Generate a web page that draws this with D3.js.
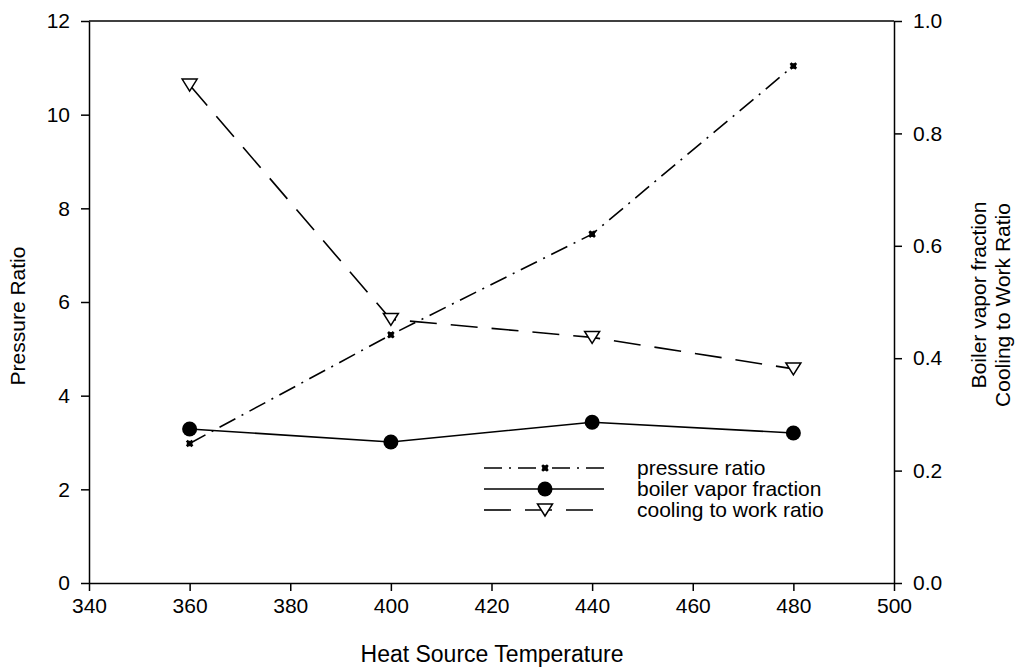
<!DOCTYPE html>
<html>
<head>
<meta charset="utf-8">
<script src="https://cdn.jsdelivr.net/npm/d3@7"></script>
<style>
  html, body { margin: 0; padding: 0; background: #fff; }
  svg text { font-family: "Liberation Sans", Arial, sans-serif; fill: #000; }
</style>
</head>
<body>
<svg id="chart" width="1019" height="669"></svg>
<script>
// Heat source temperature sweep
const temps = [360, 400, 440, 480];
// Left axis series
const pressureRatio = [2.98, 5.30, 7.45, 11.04];
// Right axis series
const vaporFraction = [0.274, 0.251, 0.286, 0.267];
const coolingToWork = [0.886, 0.469, 0.437, 0.381];

const xTicks = [340, 360, 380, 400, 420, 440, 460, 480, 500];
const yLeftTicks = [0, 2, 4, 6, 8, 10, 12];
const yRightTicks = [0.0, 0.2, 0.4, 0.6, 0.8, 1.0];

const legendLabels = ["pressure ratio", "boiler vapor fraction", "cooling to work ratio"];

const svg = d3.select("#chart");
const plotLeft = 89, plotRight = 894, plotTop = 21, plotBottom = 583;
const FONT = 21;

const x = d3.scaleLinear().domain([340, 500]).range([plotLeft, plotRight]);
const yL = d3.scaleLinear().domain([0, 12]).range([plotBottom, plotTop]);
const yR = d3.scaleLinear().domain([0, 1]).range([plotBottom, plotTop]);

// Axes
function styleAxis(g) {
  g.attr("font-family", null);
  g.selectAll("path.domain").attr("stroke", "#000").attr("stroke-width", 1.5);
  g.selectAll(".tick line").attr("stroke", "#000").attr("stroke-width", 1.5);
  g.selectAll(".tick text").style("font-size", FONT + "px").attr("fill", "#000");
}

svg.append("g")
  .attr("transform", `translate(0,${plotBottom})`)
  .call(d3.axisBottom(x).tickValues(xTicks).tickSize(8).tickSizeOuter(0).tickPadding(7).tickFormat(d3.format("d")))
  .call(styleAxis);

svg.append("g")
  .attr("transform", `translate(${plotLeft},0)`)
  .call(d3.axisLeft(yL).tickValues(yLeftTicks).tickSize(8).tickSizeOuter(0).tickPadding(11).tickFormat(d3.format("d")))
  .call(styleAxis);

svg.append("g")
  .attr("transform", `translate(${plotRight},0)`)
  .call(d3.axisRight(yR).tickValues(yRightTicks).tickSize(8).tickSizeOuter(0).tickPadding(11).tickFormat(d3.format(".1f")))
  .call(styleAxis);

// Top frame line
svg.append("line")
  .attr("x1", plotLeft).attr("x2", plotRight).attr("y1", plotTop).attr("y2", plotTop)
  .attr("stroke", "#000").attr("stroke-width", 1.5);

// Axis titles
svg.append("text")
  .attr("x", 492).attr("y", 662)
  .attr("text-anchor", "middle").style("font-size", "23px")
  .text("Heat Source Temperature");

svg.append("text")
  .attr("transform", "translate(25,316) rotate(-90)")
  .attr("text-anchor", "middle").style("font-size", FONT + "px")
  .text("Pressure Ratio");

svg.append("text")
  .attr("transform", "translate(986,295) rotate(-90)")
  .attr("text-anchor", "middle").style("font-size", FONT + "px")
  .text("Boiler vapor fraction");

svg.append("text")
  .attr("transform", "translate(1010,305) rotate(-90)")
  .attr("text-anchor", "middle").style("font-size", FONT + "px")
  .text("Cooling to Work Ratio");

// Series styles
const dashPressure = "18,7,2,7";
const dashCooling = "27,14";

const series = [
  { values: pressureRatio, y: yL, dash: dashPressure, marker: "cross" },
  { values: vaporFraction, y: yR, dash: null, marker: "circle" },
  { values: coolingToWork, y: yR, dash: dashCooling, marker: "triangle" }
];

function drawMarker(g, type, cx, cy) {
  if (type === "circle") {
    g.append("circle").attr("cx", cx).attr("cy", cy).attr("r", 7.5).attr("fill", "#000");
  } else if (type === "triangle") {
    g.append("path")
      .attr("d", `M${cx - 7.5},${cy - 6} L${cx + 7.5},${cy - 6} L${cx},${cy + 6} Z`)
      .attr("fill", "#fff").attr("stroke", "#000").attr("stroke-width", 1.5)
      .attr("stroke-linejoin", "miter");
  } else {
    g.append("path")
      .attr("d", d3.symbol().type(d3.symbolCross).size(36)())
      .attr("transform", `translate(${cx},${cy}) rotate(45)`)
      .attr("fill", "#000");
    g.append("circle").attr("cx", cx).attr("cy", cy).attr("r", 2.8).attr("fill", "#000");
  }
}

const plot = svg.append("g");
series.forEach(s => {
  const line = d3.line().x((d, i) => x(temps[i])).y(d => s.y(d));
  plot.append("path")
    .datum(s.values)
    .attr("d", line)
    .attr("fill", "none").attr("stroke", "#000").attr("stroke-width", 1.6)
    .attr("stroke-dasharray", s.dash);
});
series.forEach(s => {
  s.values.forEach((v, i) => drawMarker(plot, s.marker, x(temps[i]), s.y(v)));
});

// Legend
const legend = svg.append("g");
const legRows = [468, 489, 510];
series.forEach((s, i) => {
  const ly = legRows[i];
  legend.append("line")
    .attr("x1", 484).attr("x2", 604).attr("y1", ly).attr("y2", ly)
    .attr("stroke", "#000").attr("stroke-width", 1.6)
    .attr("stroke-dasharray", s.dash);
  drawMarker(legend, s.marker, 545, ly);
  legend.append("text")
    .attr("x", 637).attr("y", ly + 7)
    .style("font-size", FONT + "px")
    .text(legendLabels[i]);
});
</script>
</body>
</html>
